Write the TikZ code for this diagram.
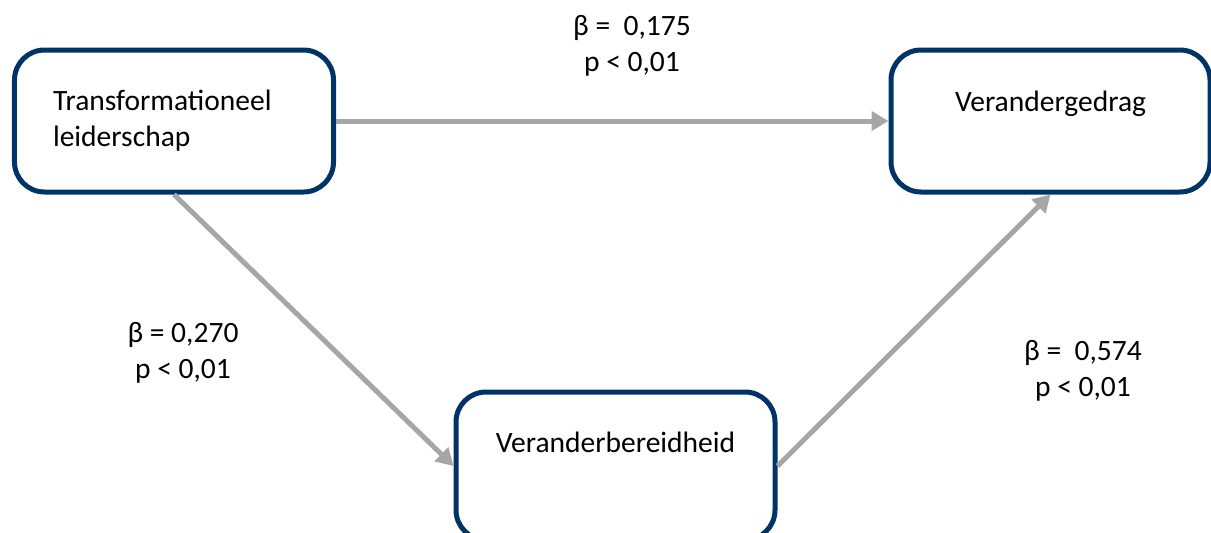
\documentclass[tikz,border=0pt]{standalone}
\usepackage{fontspec}
\setmainfont{Carlito}
\usetikzlibrary{arrows.meta}

\definecolor{boxblue}{RGB}{0,51,102}
\definecolor{arrowgray}{RGB}{166,166,166}

\begin{document}
\begin{tikzpicture}[font=\fontsize{16.8}{20.4}\selectfont,
    box/.style={draw=boxblue,line width=0.1cm,rounded corners=0.6cm,
      minimum width=6.38cm,minimum height=2.84cm,align=center},
    topbox/.style={box,text depth=0.8cm},
    link/.style={draw=arrowgray,line width=0.1cm,
      -{Triangle[length=0.34cm,width=0.38cm]}},
    stat/.style={align=center}]
    \useasboundingbox (0,0) rectangle (24.22,-10.64);

    % the three variables
    \node[box,align=left,text width=4.84cm,inner xsep=0.77cm] (tl) at (3.48,-2.42) {Transformationeel\\leiderschap};
    \node[topbox] (vg) at (21.01,-2.42) {Verandergedrag};
    \node[topbox,minimum height=2.96cm,text depth=0.96cm] (vb) at (12.31,-9.32) {Veranderbereidheid};

    % paths
    \draw[link] (tl.east) -- (vg.west);
    \draw[link] (tl.south) -- (vb.west);
    \draw[link] (vb.east) -- (vg.south);

    % coefficients
    \node[stat] (b1) at (12.64,-0.92) {β =~ 0,175\\p < 0,01};
    \node[stat] (b2) at (3.66,-7.06) {β = 0,270\\p < 0,01};
    \node[stat] (b3) at (21.66,-7.42) {β =~ 0,574\\p < 0,01};
\end{tikzpicture}
\end{document}
